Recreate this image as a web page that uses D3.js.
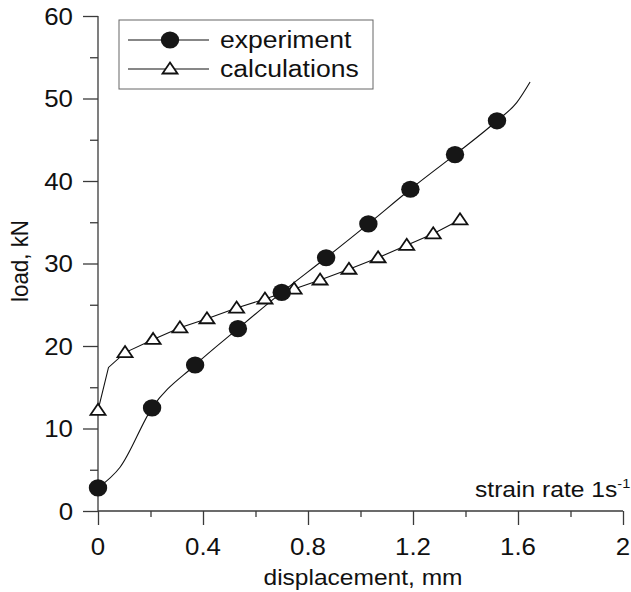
<!DOCTYPE html>
<html>
<head>
<meta charset="utf-8">
<script src="https://cdn.jsdelivr.net/npm/d3@7"></script>
<style>
  body { margin: 0; background: #fff; }
  text { font-family: "Liberation Sans", Arial, sans-serif; fill: #111; }
</style>
</head>
<body>
<div id="plot"></div>
<script>
var w = 631;
var h = 592;

// experiment: marker points and extra points of the fitted line
var expX = [0, 0.206, 0.37, 0.533, 0.70, 0.869, 1.03, 1.19, 1.36, 1.52];
var expY = [2.8, 12.5, 17.7, 22.1, 26.5, 30.7, 34.8, 39.0, 43.2, 47.3];
var expLineX = [0, 0.084, 0.206, 0.37, 0.533, 0.70, 0.869, 1.03, 1.19, 1.36, 1.52, 1.595, 1.646];
var expLineY = [2.8, 5.3, 12.5, 17.7, 22.1, 26.5, 30.7, 34.8, 39.0, 43.2, 47.3, 49.5, 52.0];

// calculations
var calcX = [0, 0.103, 0.21, 0.312, 0.415, 0.528, 0.636, 0.747, 0.846, 0.956, 1.067, 1.176, 1.277, 1.379];
var calcY = [12.2, 19.2, 20.8, 22.2, 23.3, 24.6, 25.7, 26.9, 28.0, 29.3, 30.7, 32.2, 33.6, 35.3];
var calcLineX = [0, 0.04, 0.103, 0.21, 0.312, 0.415, 0.528, 0.636, 0.747, 0.846, 0.956, 1.067, 1.176, 1.277, 1.379];
var calcLineY = [12.2, 17.4, 19.2, 20.8, 22.2, 23.3, 24.6, 25.7, 26.9, 28.0, 29.3, 30.7, 32.2, 33.6, 35.3];

var xTicks = [0, 0.4, 0.8, 1.2, 1.6, 2];
var xTickLabels = ["0", "0.4", "0.8", "1.2", "1.6", "2"];
var xMinor = [0.2, 0.6, 1.0, 1.4, 1.8];
var yTicks = [0, 10, 20, 30, 40, 50, 60];
var yMinor = [5, 15, 25, 35, 45, 55];

var legendNames = ["experiment", "calculations"];

var sx = 1.1; // the scan is stretched horizontally

var xScale = d3.scaleLinear().domain([0, 2]).range([98, 623]);
var yScale = d3.scaleLinear().domain([0, 60]).range([511, 16]);

var svg = d3.select("#plot").append("svg")
    .attr("width", w)
    .attr("height", h);

// axes
var axisColor = "#3a3a3a";
var xAxis = d3.axisBottom(xScale).tickValues(xTicks).tickSize(14).tickFormat("");
var xAxisMinor = d3.axisBottom(xScale).tickValues(xMinor).tickSize(6).tickFormat("");
var yAxis = d3.axisLeft(yScale).tickValues(yTicks).tickSize(15).tickFormat("");
var yAxisMinor = d3.axisLeft(yScale).tickValues(yMinor).tickSize(8).tickFormat("");

function styleAxis(g) {
  g.select(".domain").remove();
  g.selectAll("line").attr("stroke", axisColor).attr("stroke-width", 1.3);
}

svg.append("g").attr("transform", "translate(0," + yScale(0) + ")").call(xAxis).call(styleAxis);
svg.append("g").attr("transform", "translate(0," + yScale(0) + ")").call(xAxisMinor).call(styleAxis);
svg.append("g").attr("transform", "translate(" + xScale(0) + ",0)").call(yAxis).call(styleAxis);
svg.append("g").attr("transform", "translate(" + xScale(0) + ",0)").call(yAxisMinor).call(styleAxis);

svg.append("line")
   .attr("x1", xScale(0)).attr("x2", xScale(2))
   .attr("y1", yScale(0)).attr("y2", yScale(0))
   .attr("stroke", axisColor).attr("stroke-width", 1.3);
svg.append("line")
   .attr("x1", xScale(0)).attr("x2", xScale(0))
   .attr("y1", yScale(0)).attr("y2", yScale(60))
   .attr("stroke", axisColor).attr("stroke-width", 1.3);

// tick labels
svg.selectAll(".xlab")
   .data(xTicks)
   .enter()
   .append("text")
   .attr("class", "xlab")
   .attr("transform", function(d) { return "translate(" + xScale(d) + ",555) scale(" + sx + ",1)"; })
   .attr("text-anchor", "middle")
   .attr("font-size", "23.5px")
   .text(function(d, i) { return xTickLabels[i]; });

svg.selectAll(".ylab")
   .data(yTicks)
   .enter()
   .append("text")
   .attr("class", "ylab")
   .attr("transform", function(d) { return "translate(73," + (yScale(d) + 8.5) + ") scale(" + sx + ",1)"; })
   .attr("text-anchor", "end")
   .attr("font-size", "23.5px")
   .text(function(d) { return d; });

// axis titles
svg.append("text")
   .attr("transform", "translate(363,585) scale(" + sx + ",1)")
   .attr("text-anchor", "middle")
   .attr("font-size", "22.3px")
   .text("displacement, mm");

svg.append("text")
   .attr("transform", "translate(28,261) scale(" + sx + ",1) rotate(-90)")
   .attr("text-anchor", "middle")
   .attr("font-size", "22.3px")
   .text("load, kN");

var note = svg.append("text")
   .attr("transform", "translate(475,497) scale(1.12,1)")
   .attr("font-size", "22px");
note.append("tspan").text("strain rate 1s");
note.append("tspan").attr("font-size", "13px").attr("dy", -9).text("-1");

// lines
var expLine = d3.line()
    .x(function(d) { return xScale(d[0]); })
    .y(function(d) { return yScale(d[1]); })
    .curve(d3.curveMonotoneX);
var calcLine = d3.line()
    .x(function(d) { return xScale(d[0]); })
    .y(function(d) { return yScale(d[1]); });

svg.append("path")
   .datum(d3.zip(calcLineX, calcLineY))
   .attr("d", calcLine)
   .attr("fill", "none")
   .attr("stroke", "#111")
   .attr("stroke-width", 1.1);

svg.append("path")
   .datum(d3.zip(expLineX, expLineY))
   .attr("d", expLine)
   .attr("fill", "none")
   .attr("stroke", "#111")
   .attr("stroke-width", 1.1);

// markers
var tri = "M0,-6.5L7.5,4.5L-7.5,4.5Z";

svg.selectAll(".tri")
   .data(d3.zip(calcX, calcY))
   .enter()
   .append("path")
   .attr("class", "tri")
   .attr("d", tri)
   .attr("transform", function(d) { return "translate(" + xScale(d[0]) + "," + yScale(d[1]) + ")"; })
   .attr("fill", "#fff")
   .attr("stroke", "#111")
   .attr("stroke-width", 1.8);

svg.selectAll(".dot")
   .data(d3.zip(expX, expY))
   .enter()
   .append("ellipse")
   .attr("class", "dot")
   .attr("cx", function(d) { return xScale(d[0]); })
   .attr("cy", function(d) { return yScale(d[1]); })
   .attr("rx", 9.2)
   .attr("ry", 8.6)
   .attr("fill", "#161616");

// legend
var legend = svg.append("g");
legend.append("rect")
   .attr("x", 119).attr("y", 20)
   .attr("width", 254).attr("height", 69)
   .attr("fill", "none")
   .attr("stroke", "#666")
   .attr("stroke-width", 1);

var legendY = [40, 69];
legendNames.forEach(function(name, i) {
  legend.append("line")
     .attr("x1", 128).attr("x2", 209)
     .attr("y1", legendY[i]).attr("y2", legendY[i])
     .attr("stroke", "#111").attr("stroke-width", 1.1);
  legend.append("text")
     .attr("transform", "translate(220," + (legendY[i] + 7.5) + ") scale(1.13,1)")
     .attr("font-size", "23.5px")
     .text(name);
});
legend.append("ellipse")
   .attr("cx", 170).attr("cy", legendY[0])
   .attr("rx", 9.2).attr("ry", 8.6)
   .attr("fill", "#161616");
legend.append("path")
   .attr("d", tri)
   .attr("transform", "translate(170," + legendY[1] + ")")
   .attr("fill", "#fff")
   .attr("stroke", "#111")
   .attr("stroke-width", 1.8);
</script>
</body>
</html>
